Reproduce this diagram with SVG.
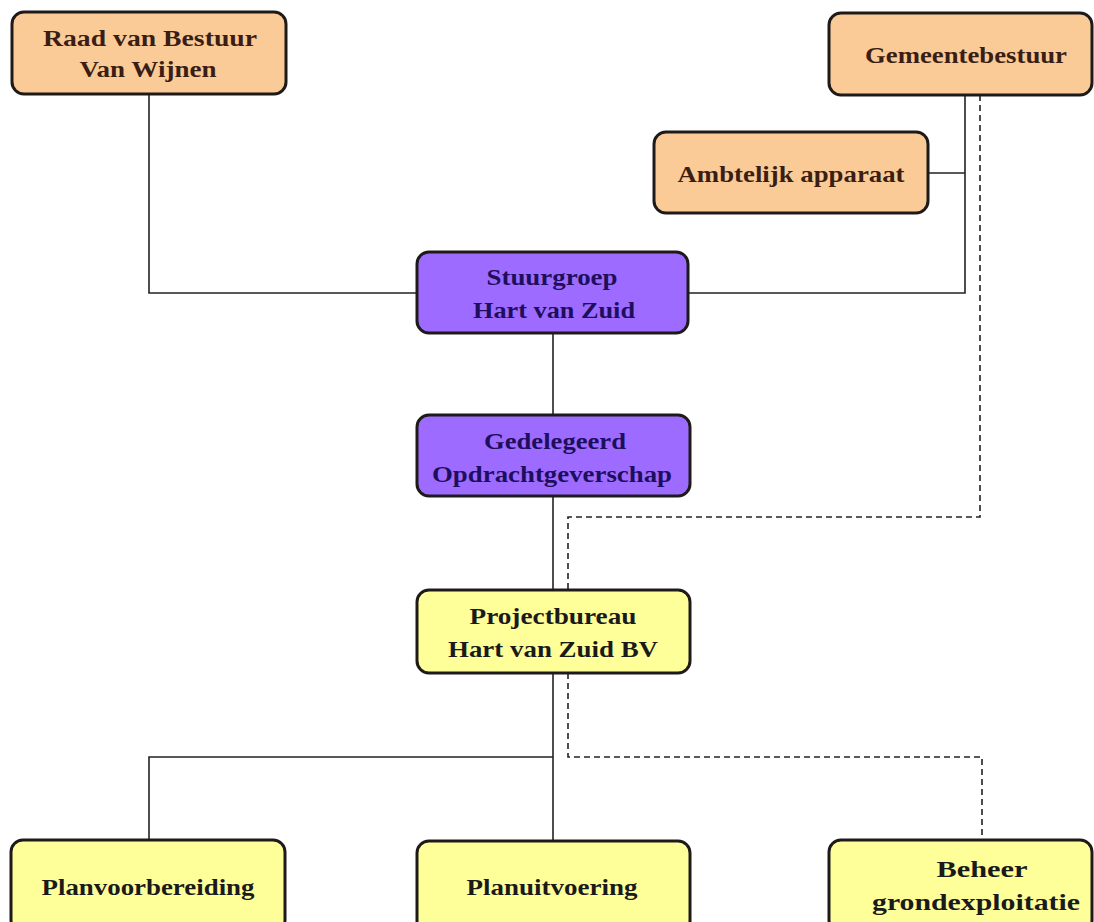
<svg xmlns="http://www.w3.org/2000/svg" width="1094" height="922" viewBox="0 0 1094 922">
<style>
.box{stroke:#1e1a1a;stroke-width:3}
.o{fill:#FBCB97}
.p{fill:#9D6BFF}
.y{fill:#FFFF99}
text{font-family:"Liberation Serif","Times New Roman",serif;font-weight:bold;font-size:24px;text-anchor:middle}
.to{fill:#3a1e14}
.tp{fill:#1e0f5e}
.ty{fill:#1a1a1a}
.ln{fill:none;stroke:#222;stroke-width:1.6}
.dl{fill:none;stroke:#222;stroke-width:1.6;stroke-dasharray:6,4}
</style>
<rect width="1094" height="922" fill="#ffffff"/>
<g id="connectors">
<path class="ln" d="M149,95 V293 H417"/>
<path class="ln" d="M688,293 H965 V95"/>
<path class="ln" d="M928,173 H965"/>
<path class="ln" d="M553,333 V415"/>
<path class="ln" d="M553,496 V590"/>
<path class="ln" d="M553,673 V841"/>
<path class="ln" d="M149,840 V757 H553"/>
<path class="dl" d="M980,95 V517 H568 V590"/>
<path class="dl" d="M568,673 V757 H982 V840"/>
</g>
<g id="raad">
<rect class="box o" x="12" y="12" width="274" height="82" rx="12"/>
<text class="to" x="150" y="46" textLength="214" lengthAdjust="spacingAndGlyphs">Raad van Bestuur</text>
<text class="to" x="148" y="77" textLength="137" lengthAdjust="spacingAndGlyphs">Van Wijnen</text>
</g>
<g id="gemeentebestuur">
<rect class="box o" x="829" y="13" width="263" height="82" rx="12"/>
<text class="to" x="966" y="63" textLength="202" lengthAdjust="spacingAndGlyphs">Gemeentebestuur</text>
</g>
<g id="ambtelijk">
<rect class="box o" x="654" y="132" width="274" height="81" rx="12"/>
<text class="to" x="791" y="182" textLength="227" lengthAdjust="spacingAndGlyphs">Ambtelijk apparaat</text>
</g>
<g id="stuurgroep">
<rect class="box p" x="417" y="252" width="271" height="81" rx="12"/>
<text class="tp" x="552" y="285" textLength="131" lengthAdjust="spacingAndGlyphs">Stuurgroep</text>
<text class="tp" x="554" y="318" textLength="162" lengthAdjust="spacingAndGlyphs">Hart van Zuid</text>
</g>
<g id="gedelegeerd">
<rect class="box p" x="417" y="415" width="273" height="81" rx="12"/>
<text class="tp" x="555" y="449" textLength="142" lengthAdjust="spacingAndGlyphs">Gedelegeerd</text>
<text class="tp" x="552" y="482" textLength="240" lengthAdjust="spacingAndGlyphs">Opdrachtgeverschap</text>
</g>
<g id="projectbureau">
<rect class="box y" x="417" y="590" width="273" height="83" rx="12"/>
<text class="ty" x="553" y="624" textLength="167" lengthAdjust="spacingAndGlyphs">Projectbureau</text>
<text class="ty" x="553" y="657" textLength="210" lengthAdjust="spacingAndGlyphs">Hart van Zuid BV</text>
</g>
<g id="planvoorbereiding">
<rect class="box y" x="11" y="840" width="274" height="92" rx="12"/>
<text class="ty" x="148" y="895" textLength="213" lengthAdjust="spacingAndGlyphs">Planvoorbereiding</text>
</g>
<g id="planuitvoering">
<rect class="box y" x="417" y="841" width="273" height="92" rx="12"/>
<text class="ty" x="552" y="895" textLength="171" lengthAdjust="spacingAndGlyphs">Planuitvoering</text>
</g>
<g id="beheer">
<rect class="box y" x="829" y="840" width="263" height="92" rx="12"/>
<text class="ty" x="982" y="877" textLength="91" lengthAdjust="spacingAndGlyphs">Beheer</text>
<text class="ty" x="976" y="910" textLength="208" lengthAdjust="spacingAndGlyphs">grondexploitatie</text>
</g>
</svg>
